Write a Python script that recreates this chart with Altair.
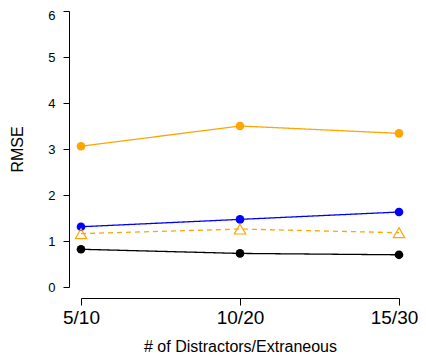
import altair as alt
import pandas as pd

categories = ["5/10", "10/20", "15/30"]
orange_solid = [3.06, 3.50, 3.34]
blue_solid = [1.31, 1.47, 1.63]
orange_dashed = [1.16, 1.26, 1.18]
black_solid = [0.82, 0.73, 0.70]
y_ticks = [0, 1, 2, 3, 4, 5, 6]

series = [
    ("A", orange_solid, "#FFA500", "solid", "circle", True),
    ("B", blue_solid, "#0000FF", "solid", "circle", True),
    ("C", orange_dashed, "#FFA500", "dashed", "triangle-up", False),
    ("D", black_solid, "#000000", "solid", "circle", True),
]

rows = []
for name, vals, col, dash, shape, filled in series:
    for c, v in zip(categories, vals):
        rows.append({"series": name, "cat": c, "rmse": v})
df = pd.DataFrame(rows)

x_enc = alt.X("cat:O", sort=categories,
              scale=alt.Scale(type="point", padding=0),
              axis=alt.Axis(title="# of Distractors/Extraneous", labelAngle=0,
                            offset=11, tickSize=7, labelPadding=3,
                            labelFontSize=19, titleFontSize=16, titlePadding=11,
                            grid=False,
                            labelOffset={"condition": {"test": "datum.value === '15/30'", "value": -5},
                                         "value": 0}))
y_enc = alt.Y("rmse:Q", scale=alt.Scale(domain=[0, 6], nice=False, zero=False),
              axis=alt.Axis(title="RMSE", values=y_ticks, offset=12, tickSize=6,
                            labelPadding=8, labelFontSize=13, titleFontSize=16,
                            titlePadding=22, grid=False,
                            labelBaseline={"condition": {"test": "datum.value === 6", "value": "top"},
                                           "value": "middle"},
                            labelOffset={"condition": {"test": "datum.value === 6", "value": -2},
                                         "value": 0}))

base = alt.Chart(df)
layers = []
for name, vals, col, dash, shape, filled in series:
    sub = base.transform_filter(alt.datum.series == name)
    line = sub.mark_line(color=col, strokeWidth=1.3,
                         strokeDash=[5, 4] if dash == "dashed" else [1, 0]).encode(
        x=x_enc, y=y_enc)
    if filled:
        pts = sub.mark_point(shape=shape, filled=True, color=col, size=75, opacity=1).encode(x=x_enc, y=y_enc)
    else:
        pts = sub.mark_point(shape=shape, filled=False, color=col, size=130, strokeWidth=1.2, opacity=1).encode(x=x_enc, y=y_enc)
    layers += [line, pts]

chart = alt.layer(*layers).properties(
    width=318, height=276,
    autosize=alt.AutoSizeParams(type="none"),
    padding={"left": 73, "top": 3, "right": 19, "bottom": 69},
).configure_view(stroke=None).configure_axis(
    domainColor="#000000", tickColor="#000000", labelColor="#000000", titleColor="#000000",
    labelFont="Liberation Sans", titleFont="Liberation Sans", titleFontWeight="normal",
    domainWidth=1, tickWidth=1,
)

chart.save("out.html", embed_options={"renderer": "svg", "actions": False})
